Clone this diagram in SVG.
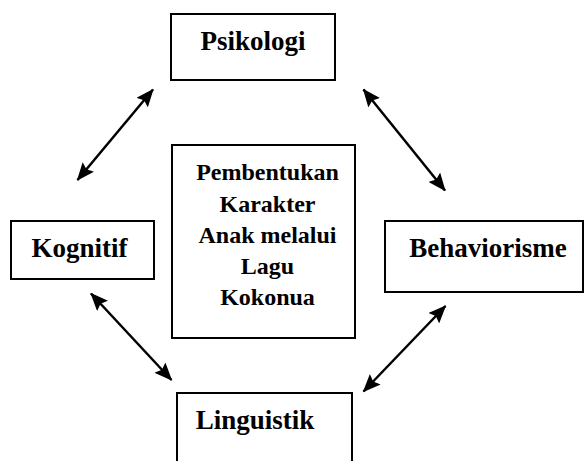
<svg xmlns="http://www.w3.org/2000/svg" width="587" height="461" viewBox="0 0 587 461">
<style>
.box{fill:#fff;stroke:#000;stroke-width:2}
.t{font-family:'Liberation Serif','Times New Roman',serif;font-weight:bold;font-size:27px;text-anchor:middle;fill:#000}
.m{font-size:24px}
.c{stroke:#000;stroke-width:2.5;fill:none;marker-start:url(#ah);marker-end:url(#ah)}
</style>
<defs>
<marker id="ah" viewBox="0 0 18 15" refX="17" refY="7.5" markerWidth="18" markerHeight="15" markerUnits="userSpaceOnUse" orient="auto-start-reverse">
<path d="M0,0 L18,7.5 L0,15 L3,7.5 z" fill="#000"/>
</marker>
</defs>
<rect width="587" height="461" fill="#fff"/>
<g id="connectors">
<line class="c" x1="153" y1="89.5" x2="77.5" y2="180"/>
<line class="c" x1="363.5" y1="89.5" x2="445" y2="190.5"/>
<line class="c" x1="91" y1="293.5" x2="171.5" y2="380"/>
<line class="c" x1="445.5" y1="306" x2="363.5" y2="391.5"/>
</g>
<g id="psikologi">
<rect class="box" x="171" y="14" width="164" height="66"/>
<text class="t" x="253" y="50">Psikologi</text>
</g>
<g id="center">
<rect class="box" x="172" y="145" width="183" height="193"/>
<text class="t m" x="267.5" y="180">Pembentukan</text>
<text class="t m" x="267.5" y="211.5">Karakter</text>
<text class="t m" x="267.5" y="242.5">Anak melalui</text>
<text class="t m" x="267.5" y="273.5">Lagu</text>
<text class="t m" x="267.5" y="305">Kokonua</text>
</g>
<g id="kognitif">
<rect class="box" x="11" y="221" width="143" height="58"/>
<text class="t" x="79.5" y="257">Kognitif</text>
</g>
<g id="behaviorisme">
<rect class="box" x="385" y="221" width="198" height="71"/>
<text class="t" x="488" y="257">Behaviorisme</text>
</g>
<g id="linguistik">
<rect class="box" x="177" y="393" width="175" height="75"/>
<text class="t" x="255" y="429">Linguistik</text>
</g>
</svg>
